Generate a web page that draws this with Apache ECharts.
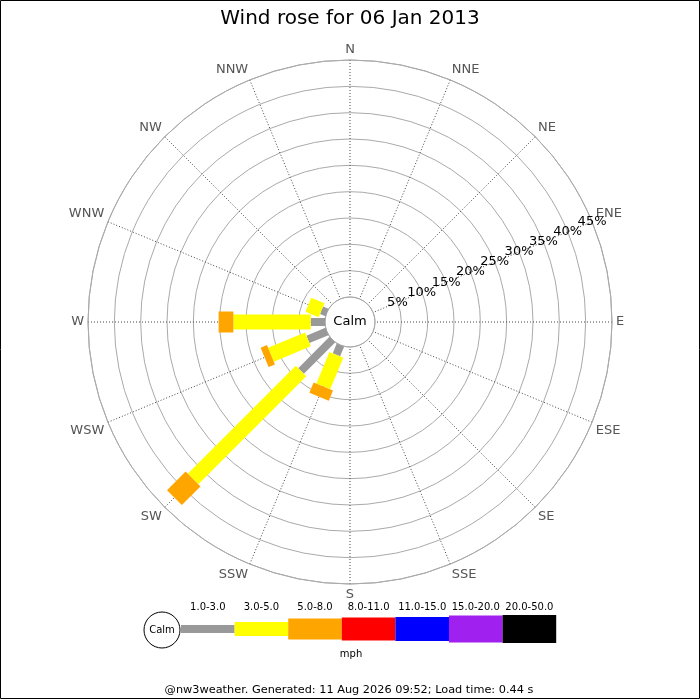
<!DOCTYPE html>
<html>
<head>
<meta charset="utf-8">
<script src="https://cdn.jsdelivr.net/npm/echarts@6/dist/echarts.min.js"></script>
<style>
html,body{margin:0;padding:0;background:#fff;}
#chart{width:700px;height:700px;}
</style>
</head>
<body>
<div id="chart"></div>
<script>
// ---- data ----
const directions = ['N','NNE','NE','ENE','E','ESE','SE','SSE','S','SSW','SW','WSW','W','WNW','NW','NNW'];
const directionDegrees = [0,22.5,45,67.5,90,112.5,135,157.5,180,202.5,225,247.5,270,292.5,315,337.5];
const speedBins = ['1.0-3.0','3.0-5.0','5.0-8.0','8.0-11.0','11.0-15.0','15.0-20.0','20.0-50.0'];
const binColors = ['#999999','#ffff00','#ffa500','#ff0000','#0000ff','#a020f0','#000000'];
// percentage of time per direction, for each speed bin (mph)
const pct_1_3  = [0,0,0,0,0,0,0,0,0, 2.0, 8.4, 3.9, 2.7, 1.1,0,0];
const pct_3_5  = [0,0,0,0,0,0,0,0,0, 6.5,29.0, 7.6,14.7, 2.7,0,0];
const pct_5_8  = [0,0,0,0,0,0,0,0,0, 2.1, 5.0, 1.3, 2.8, 0.0,0,0];
const pct_8_11 = [0,0,0,0,0,0,0,0,0, 0,0,0,0,0,0,0];
const binValues = [pct_1_3, pct_3_5, pct_5_8, pct_8_11];
const radialMax = 45;
const radialStep = 5;
const titleText = 'Wind rose for 06 Jan 2013';
const unitText = 'mph';
const footerText = '@nw3weather. Generated: 11 Aug 2026 09:52; Load time: 0.44 s';

// ---- layout / style ----
const CX = 350, CY = 322, R_IN = 25, R_OUT = 262;
const barWidths = [8, 15, 21, 23, 24, 27, 28];
const legendHeights = [8, 14, 21, 23, 24, 27, 28];
const FONT = 'DejaVu Sans';

// stacked segments: [end, angleDegrees, start]
function segmentsFor(b) {
  const out = [];
  directions.forEach((d, i) => {
    let start = 0;
    for (let k = 0; k < b; k++) start += binValues[k][i];
    const v = binValues[b][i];
    if (v > 0) out.push([start + v, directionDegrees[i], start]);
  });
  return out;
}

function makeRender(b) {
  return function (params, api) {
    const end = api.value(0), ang = api.value(1), start = api.value(2);
    const p0 = api.coord([start, ang]);
    const p1 = api.coord([end, ang]);
    const dx = p1[0] - p0[0], dy = p1[1] - p0[1];
    const len = Math.sqrt(dx * dx + dy * dy) || 1;
    const nx = -dy / len * barWidths[b] / 2, ny = dx / len * barWidths[b] / 2;
    return {
      type: 'polygon',
      shape: { points: [[p0[0]+nx,p0[1]+ny],[p1[0]+nx,p1[1]+ny],[p1[0]-nx,p1[1]-ny],[p0[0]-nx,p0[1]-ny]] },
      style: { fill: binColors[b] }
    };
  };
}

const series = binValues.map((vals, b) => ({
  type: 'custom',
  coordinateSystem: 'polar',
  polarIndex: 0,
  name: speedBins[b],
  encode: { radius: 0, angle: 1 },
  renderItem: makeRender(b),
  data: segmentsFor(b),
  z: 5
}));

// legend graphics
const legendX0 = 181, legendSegW = 53.6, legendCY = 629;
const graphics = [];
graphics.push({ type: 'rect', shape: { x: 0.5, y: 0.5, width: 699, height: 698 }, style: { fill: 'none', stroke: '#000', lineWidth: 1 }, silent: true });
graphics.push({ type: 'text', x: CX, y: CY, style: { text: 'Calm', align: 'center', verticalAlign: 'middle', fontSize: 13, fontFamily: FONT, fill: '#000' }, z: 10 });
graphics.push({ type: 'circle', shape: { cx: 162, cy: 630, r: 18 }, style: { fill: '#fff', stroke: '#000', lineWidth: 1 } });
graphics.push({ type: 'text', x: 162, y: 630, style: { text: 'Calm', align: 'center', verticalAlign: 'middle', fontSize: 10, fontFamily: FONT, fill: '#000' } });
speedBins.forEach((lab, i) => {
  const x = legendX0 + i * legendSegW;
  graphics.push({ type: 'rect', shape: { x: x, y: legendCY - legendHeights[i] / 2, width: legendSegW, height: legendHeights[i] }, style: { fill: binColors[i] } });
  graphics.push({ type: 'text', x: x + legendSegW / 2, y: 607, style: { text: lab, align: 'center', verticalAlign: 'middle', fontSize: 10, fontFamily: FONT, fill: '#000' } });
});
graphics.push({ type: 'text', x: 351, y: 654, style: { text: unitText, align: 'center', verticalAlign: 'middle', fontSize: 10, fontFamily: FONT, fill: '#000' } });
graphics.push({ type: 'text', x: 349, y: 690, style: { text: footerText, align: 'center', verticalAlign: 'middle', fontSize: 11.3, fontFamily: FONT, fill: '#000' } });

const pctLabelBase = {
  show: true, margin: 0, align: 'center', verticalAlign: 'middle',
  color: '#000', fontSize: 13, fontFamily: FONT
};

const chart = echarts.init(document.getElementById('chart'));
chart.setOption({
  animation: false,
  backgroundColor: '#fff',
  textStyle: { fontFamily: FONT },
  title: {
    text: titleText, left: 'center', top: 4,
    textStyle: { fontSize: 20, fontWeight: 'normal', color: '#000', fontFamily: FONT }
  },
  polar: [
    { center: [CX, CY], radius: [R_IN, R_OUT] },
    { center: [CX, CY], radius: [R_IN, R_OUT] },
    { center: [CX, CY], radius: [R_IN, R_OUT] }
  ],
  angleAxis: [
    {
      polarIndex: 0, type: 'value', min: 0, max: 360, interval: 22.5,
      startAngle: 90, clockwise: true,
      axisLine: { show: true, lineStyle: { color: '#aaaaaa', width: 1 } },
      axisTick: { show: false },
      axisLabel: {
        show: true, margin: 4, color: '#555555', fontSize: 13, fontFamily: FONT,
        formatter: v => directions[Math.round(v / 22.5) % 16]
      },
      splitLine: { show: true, lineStyle: { color: '#444444', type: [1, 2], width: 1 } }
    },
    { polarIndex: 1, type: 'value', min: 0, max: 360, startAngle: 22.5, show: false },
    { polarIndex: 2, type: 'value', min: 0, max: 360, startAngle: 22.5, show: false }
  ],
  radiusAxis: [
    {
      polarIndex: 0, type: 'value', min: 0, max: radialMax, interval: radialStep,
      axisLine: { show: false }, axisTick: { show: false }, axisLabel: { show: false },
      splitLine: { show: true, lineStyle: { color: '#aaaaaa', width: 1 } }
    },
    {
      polarIndex: 1, type: 'value', min: 0, max: radialMax, interval: radialStep,
      axisLine: { show: false }, axisTick: { show: false }, splitLine: { show: false },
      axisLabel: Object.assign({}, pctLabelBase, {
        showMaxLabel: false, showMinLabel: false,
        formatter: v => (v > 0 && v < radialMax ? v + '%' : '')
      }),
      z: 20
    },
    {
      polarIndex: 2, type: 'value', min: 0, max: radialMax, interval: radialStep,
      axisLine: { show: false }, axisTick: { show: false }, splitLine: { show: false },
      axisLabel: Object.assign({}, pctLabelBase, {
        showMaxLabel: true, showMinLabel: false,
        formatter: v => (v === radialMax ? v + '%' : '')
      }),
      z: 21
    }
  ],
  series: series,
  graphic: graphics
});
</script>
</body>
</html>
